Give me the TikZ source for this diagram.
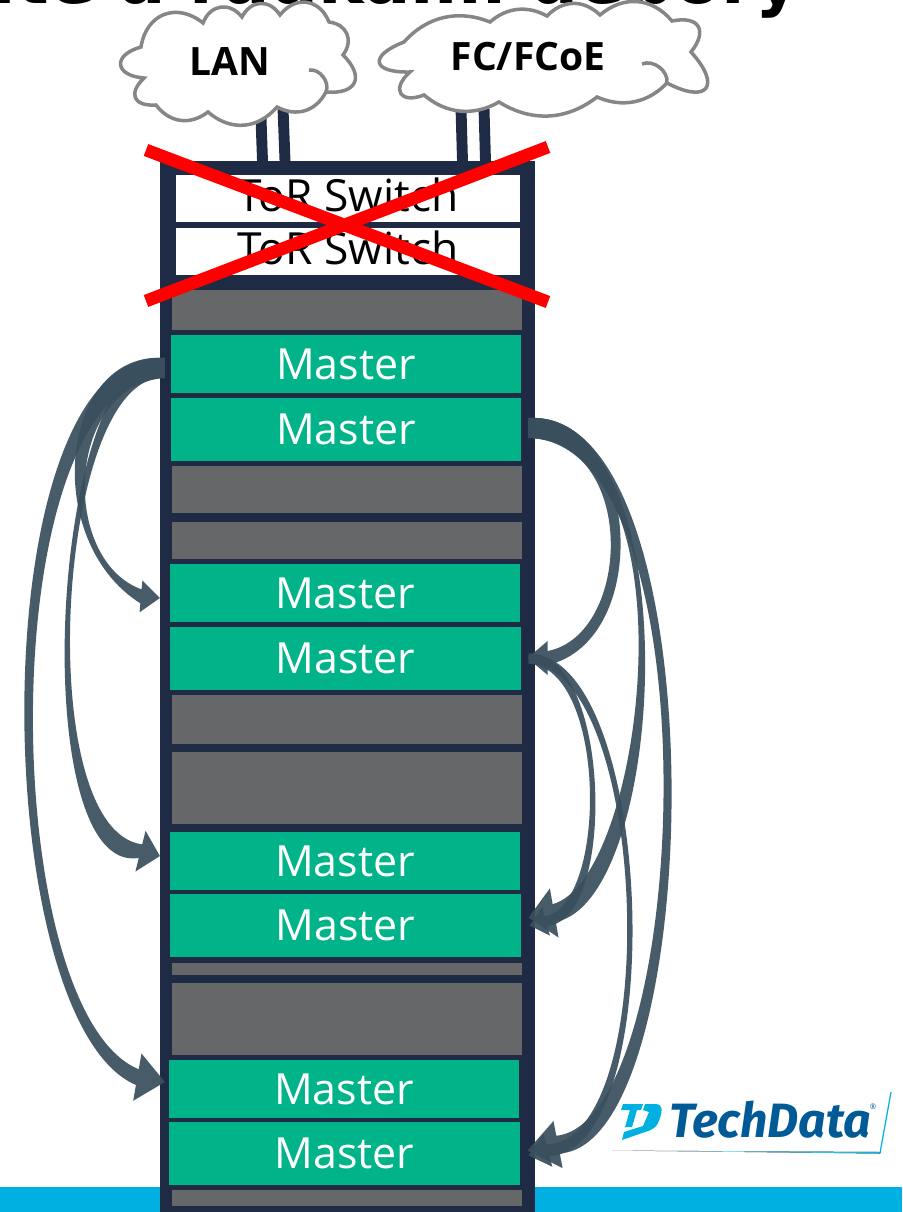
\documentclass[tikz,border=0pt]{standalone}
\usepackage{fontspec}
\setmainfont{Open Sans}
\newfontfamily\titlefont{DejaVu Sans}
\newfontfamily\logofont{Fira Sans}
\usetikzlibrary{calc}
\definecolor{racknavy}{HTML}{1F2A44}
\definecolor{mastergreen}{HTML}{00B388}
\definecolor{fillgray}{HTML}{666769}
\definecolor{bowslate}{HTML}{3A4F5E}
\definecolor{barblue}{HTML}{00B0E0}
\definecolor{logodark}{HTML}{005A96}
\tikzset{
  rowbox/.style={inner sep=0pt,outer sep=0pt,minimum width=3.5cm},
  masterbox/.style={rowbox,fill=mastergreen,text=white,font=\fontsize{12.2}{14}\selectfont},
  graybox/.style={rowbox,fill=fillgray},
  switchbox/.style={inner sep=0pt,outer sep=0pt,minimum width=3.44cm,minimum height=.47cm,fill=white,text depth=2.3pt,font=\fontsize{12.6}{14}\selectfont},
  cloudline/.style={draw=gray!95,line width=1pt,fill=white},
  cloudtext/.style={inner sep=0pt,font=\fontsize{11.1}{13}\selectfont\bfseries},
  flatpuff/.style={bend left=35,looseness=1},
  lowpuff/.style={bend left=45,looseness=1.1},
  midpuff/.style={bend left=60,looseness=1.3},
  highpuff/.style={bend left=70,looseness=1.95},
  bigpuff/.style={bend left=80,looseness=2.45},
  cableline/.style={color=racknavy,line width=3.1pt},
  crossline/.style={color=red,line width=3.6pt},
  bow/.style={fill=bowslate,fill opacity=.93}
}
% from, to, head angle, head length, head half, shaft half, start half, two control pairs
\newcommand{\bowarrow}[9]{
  \fill[bow] ($(#1)+(0,-#7)$) .. controls #8 .. ($(#2)+(#3:-#4)+(#3+90:#6)$)
    -- ($(#2)+(#3:-#4)+(#3+90:#5)$) -- (#2) -- ($(#2)+(#3:-#4)+(#3+90:-#5)$)
    -- ($(#2)+(#3:-#4)+(#3+90:-#6)$) .. controls #9 .. ($(#1)+(0,#7)$) -- cycle;
}
\begin{document}
\begin{tikzpicture}[x=.01cm,y=-.01cm]
\useasboundingbox (0,0) rectangle (902,1212);
%title cut off by the page
\node[anchor=base west,inner sep=0pt,font=\titlefont\fontsize{19.5}{22}\selectfont\bfseries] (title) at (-8,4) {ite a radkalm debory};
%bottom bar
\fill[color=barblue] (0,1187) rectangle (902,1212);
%rack
\node[inner sep=0pt,outer sep=0pt,minimum width=3.75cm,minimum height=10.51cm,fill=racknavy] (rack) at (347.5,686.5) {};
\node[switchbox] (sw1) at (348,198.5) {ToR Switch};
\node[switchbox] (sw2) at (348,251.5) {ToR Switch};
%empty slots
\foreach \nm/\yc/\hh in {a/310/.40,b/489.5/.47,c/540.5/.37,d/719.5/.49,e/788/.72,f/969/.12,g/1019/.72,h/1198/.16}
  \node[graybox,minimum height=\hh cm] (g\nm) at (347,\yc) {};
%masters
\foreach \nm/\xc/\yc/\hh in {m1/346/364/.58,m2/346/429.5/.63,m3/345/593/.58,m4/345.5/658.5/.63,m5/345/861/.58,m6/345.5/925.5/.63,m7/344/1089/.58,m8/344.5/1153.5/.63}
  \node[masterbox,minimum height=\hh cm] (\nm) at (\xc,\yc) {Master};
%cables up to the clouds
\coordinate (lana) at (261,118);
\coordinate (lanb) at (283,108);
\coordinate (fca) at (461,108);
\coordinate (fcb) at (484,108);
\draw[cableline] (lana) -- (262.5,161);
\draw[cableline] (lanb) -- (285,161);
\draw[cableline] (fca) -- (462.5,161);
\draw[cableline] (fcb) -- (485.5,161);
%LAN cloud
\draw[cloudline] (144,78) to[bigpuff] (141,47) to[midpuff] (203,23) to[midpuff] (242,17) to[midpuff] (280,15)
  to[midpuff] (329,22) to[midpuff] (343,55) to[highpuff] (326,92) to[lowpuff] (277,107) to[lowpuff] (208,112)
  to[lowpuff] (156,105) to[highpuff] (144,78) -- cycle;
\draw[cloudline,fill=none] (309,70) to[bend left=60] (326,92);
\node[cloudtext] (lan) at (230,62) {LAN};
%FC cloud
\draw[cloudline] (410,72) to[bigpuff,looseness=3.2] (404,42) to[flatpuff] (490,22) to[flatpuff] (547,16) to[lowpuff] (600,15)
  to[lowpuff] (672,21) to[highpuff] (691,52) to[bigpuff,looseness=3] (667,83) to[flatpuff] (597,97) to[flatpuff] (499,102)
  to[flatpuff] (424,95) to[bigpuff] (410,72) -- cycle;
\draw[cloudline,fill=none] (642,64) to[bend left=60] (667,83);
\node[cloudtext] (fc) at (528,57) {FC/FCoE};
%red cross
\coordinate (xa) at (146,150);
\coordinate (xb) at (548,302);
\coordinate (xc) at (146,301);
\coordinate (xd) at (548,147);
\draw[crossline] (xa) -- (xb);
\draw[crossline] (xc) -- (xd);
%arrow ends
\coordinate (s1) at ($(m1.west)+(-6,4)$);
\coordinate (t3) at ($(m3.west)+(-10,5)$);
\coordinate (t5) at ($(m5.west)+(-10,-5)$);
\coordinate (t7) at ($(m7.west)+(-4,-7)$);
\coordinate (s2) at ($(m2.east)+(7,-1.5)$);
\coordinate (s4) at ($(m4.east)+(8,0)$);
\coordinate (t4) at ($(m4.east)+(7,-.5)$);
\coordinate (t6) at ($(m6.east)+(8,-8)$);
\coordinate (u6) at ($(m6.east)+(9,0)$);
\coordinate (t8) at ($(m8.east)+(8,-3)$);
\coordinate (u8) at ($(m8.east)+(9,2)$);
%left arrows
\bowarrow{s1}{t3}{5}{19}{16}{7}{10}{(60,350) and (40,540)}{(60,560) and (65,385)}
\bowarrow{s1}{t5}{14}{20}{21}{7}{10}{(50,345) and (24,877)}{(30,830) and (57,370)}
\bowarrow{s1}{t7}{10}{28}{24}{8}{10}{(-20,345) and (-15,1020)}{(-5,1010) and (-8,375)}
%right arrows
\bowarrow{s2}{t4}{180}{20}{-17}{-7}{10}{(640,412) and (655,640)}{(632,635) and (638,440)}
\bowarrow{s2}{t6}{170}{26}{-25}{-9}{10}{(690,410) and (669,900)}{(645,880) and (697,440)}
\bowarrow{s2}{t8}{169}{31}{-24}{-9}{10}{(720,405) and (708,1145)}{(692,1122) and (716,440)}
\bowarrow{s4}{u6}{165}{17}{-15}{-5}{5}{(610,650) and (618,920)}{(608,905) and (607,668)}
\bowarrow{s4}{u8}{165}{20}{-17}{-6}{5}{(655,655) and (671,1150)}{(665,1140) and (648,665)}
%logo
\fill[color=barblue] (623,1104) -- (643,1104) -- (641,1110) -- (637,1110) -- (632,1127) -- (625,1127) -- (630,1110) -- (621,1110) -- cycle;
\fill[color=barblue] (645,1104) -- (655,1104) .. controls (664,1104) and (662,1112) .. (660,1118) .. controls (657,1128) and (652,1130) .. (645,1132) -- (622,1140) -- (624,1132) -- (643,1126) -- (649,1112) -- (643,1110) -- cycle;
\node[anchor=base west,inner sep=0pt,text=logodark,font=\logofont\fontsize{13.7}{15}\selectfont\bfseries\itshape] (logo) at (669,1137) {TechData};
\node[inner sep=0pt,text=logodark,font=\fontsize{2.2}{3}\selectfont] (reg) at (873,1107) {\textregistered};
\fill[left color=white,right color=barblue] (612,1150.5) -- (881,1152) -- (880,1153.5) -- cycle;
\draw[color=barblue,line width=.35pt] (880,1153) -- (891,1092);
\end{tikzpicture}
\end{document}
